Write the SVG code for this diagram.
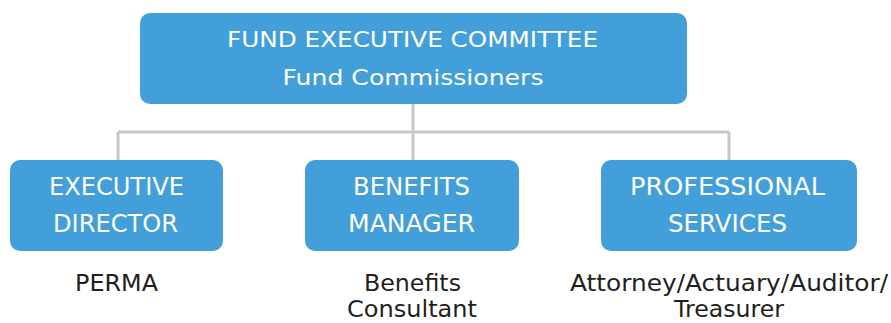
<svg xmlns="http://www.w3.org/2000/svg" width="891" height="323" viewBox="0 0 891 323">
<style>
.box{fill:#429fd9;}
.bt{font-family:"DejaVu Sans",sans-serif;font-size:24px;fill:#ffffff;text-anchor:middle;}
.tt{font-family:"DejaVu Sans",sans-serif;font-size:22px;fill:#ffffff;text-anchor:middle;}
.lt{font-family:"DejaVu Sans",sans-serif;font-size:23px;fill:#231f20;text-anchor:middle;}
.con{stroke:#c8c8c8;stroke-width:3;fill:none;}
</style>
<rect width="891" height="323" fill="#ffffff"/>
<g id="connectors">
<path class="con" d="M413,103 V132 M118,132 H729 M118,132 V160 M413,132 V160 M729,132 V160"/>
</g>
<g id="committee">
<rect class="box" x="140" y="13" width="547" height="91" rx="10"/>
<text class="tt" x="412.5" y="47" textLength="371" lengthAdjust="spacingAndGlyphs">FUND EXECUTIVE COMMITTEE</text>
<text class="tt" x="413" y="85" textLength="261" lengthAdjust="spacingAndGlyphs">Fund Commissioners</text>
</g>
<g id="executive-director">
<rect class="box" x="10" y="160" width="213" height="91" rx="10"/>
<text class="bt" x="116.5" y="195" textLength="135" lengthAdjust="spacingAndGlyphs">EXECUTIVE</text>
<text class="bt" x="115.5" y="232" textLength="125" lengthAdjust="spacingAndGlyphs">DIRECTOR</text>
<text class="lt" x="116.5" y="291" textLength="83" lengthAdjust="spacingAndGlyphs">PERMA</text>
</g>
<g id="benefits-manager">
<rect class="box" x="305" y="160" width="214" height="91" rx="10"/>
<text class="bt" x="411.5" y="195" textLength="117" lengthAdjust="spacingAndGlyphs">BENEFITS</text>
<text class="bt" x="411.5" y="232" textLength="127" lengthAdjust="spacingAndGlyphs">MANAGER</text>
<text class="lt" x="412.5" y="291" textLength="97" lengthAdjust="spacingAndGlyphs">Benefits</text>
<text class="lt" x="412" y="317" textLength="130" lengthAdjust="spacingAndGlyphs">Consultant</text>
</g>
<g id="professional-services">
<rect class="box" x="601" y="160" width="256" height="91" rx="10"/>
<text class="bt" x="727.5" y="195" textLength="195" lengthAdjust="spacingAndGlyphs">PROFESSIONAL</text>
<text class="bt" x="727.5" y="232" textLength="119" lengthAdjust="spacingAndGlyphs">SERVICES</text>
<text class="lt" x="729" y="291" textLength="318" lengthAdjust="spacingAndGlyphs">Attorney/Actuary/Auditor/</text>
<text class="lt" x="729" y="317" textLength="110" lengthAdjust="spacingAndGlyphs">Treasurer</text>
</g>
</svg>
